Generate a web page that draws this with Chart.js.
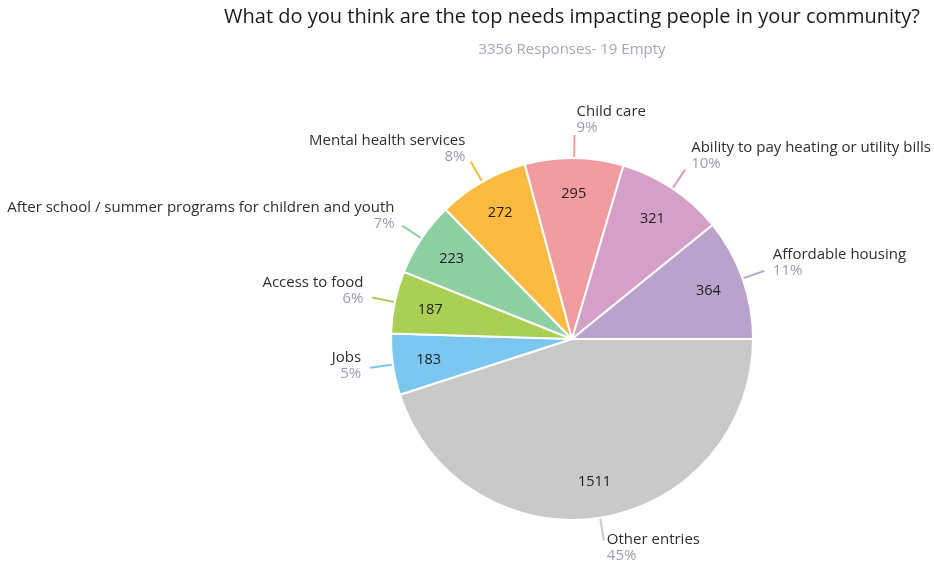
<!DOCTYPE html>
<html>
<head>
<meta charset="utf-8">
<script src="https://cdn.jsdelivr.net/npm/chart.js@4.4.0/dist/chart.umd.min.js"></script>
<style>
  html, body { margin: 0; padding: 0; background: #fff; }
  #wrap { width: 934px; height: 565px; position: relative; }
</style>
</head>
<body>
<div id="wrap"><canvas id="needsChart" width="934" height="565"></canvas></div>
<script>
// answers, in the order they go round the pie (clockwise from 3 o'clock)
const categories = ['Other entries', 'Jobs', 'Access to food',
  'After school / summer programs for children and youth',
  'Mental health services', 'Child care',
  'Ability to pay heating or utility bills', 'Affordable housing'];
const counts = [1511, 183, 187, 223, 272, 295, 321, 364];
const percents = ['45%', '5%', '6%', '7%', '8%', '9%', '10%', '11%'];
const sliceColors = ['#c9c9c9', '#7cc7ef', '#a9d055', '#8ecfa3',
  '#fbbb42', '#f19ca0', '#d5a0c8', '#b9a3cd'];

const titleText = 'What do you think are the top needs impacting people in your community?';
const subtitleText = '3356 Responses- 19 Empty';
const fontFamily = '"Open Sans", Lato, sans-serif';

// labels outside the pie with a short leader line, plus the count inside each slice
const pieLabels = {
  id: 'pieLabels',
  afterDatasetsDraw(chart) {
    const ctx = chart.ctx;
    const meta = chart.getDatasetMeta(0);
    ctx.save();
    meta.data.forEach(function(arc, i) {
      const p = arc.getProps(['x', 'y', 'startAngle', 'endAngle', 'outerRadius']);
      const mid = (p.startAngle + p.endAngle) / 2;
      const cos = Math.cos(mid), sin = Math.sin(mid);
      const r = p.outerRadius;

      // count inside the slice
      ctx.font = '14.5px ' + fontFamily;
      ctx.fillStyle = '#1e1e1e';
      ctx.textAlign = 'center';
      ctx.textBaseline = 'middle';
      ctx.fillText(counts[i], p.x + cos * r * 0.8, p.y + sin * r * 0.8);

      // leader line
      const x1 = p.x + cos * (r + 1), y1 = p.y + sin * (r + 1);
      const x2 = p.x + cos * (r + 23), y2 = p.y + sin * (r + 23);
      ctx.strokeStyle = sliceColors[i];
      ctx.lineWidth = 2;
      ctx.beginPath();
      ctx.moveTo(x1, y1);
      ctx.lineTo(x2, y2);
      ctx.stroke();

      // name and percent
      const right = cos >= 0;
      const off = 2 + 7 * Math.abs(cos);
      const tx = right ? x2 + off : x2 - off;
      const pctY = y2 + 11 * (1 + sin) - 7; // canvas y runs down, so sin > 0 is lower half
      ctx.font = '15px ' + fontFamily;
      ctx.textAlign = right ? 'left' : 'right';
      ctx.fillStyle = '#9a9cb4';
      ctx.fillText(percents[i], tx, pctY);
      ctx.fillStyle = '#2e2e33';
      ctx.fillText(categories[i], tx, pctY - 16);
    });

    // heading
    ctx.textAlign = 'center';
    ctx.textBaseline = 'middle';
    ctx.fillStyle = '#1b1b1b';
    ctx.font = '20px ' + fontFamily;
    ctx.fillText(titleText, 572, 17);
    ctx.fillStyle = '#a4a6b8';
    ctx.font = '15px ' + fontFamily;
    ctx.fillText(subtitleText, 572, 50);
    ctx.restore();
  }
};

new Chart(document.getElementById('needsChart'), {
  type: 'pie',
  data: {
    labels: categories,
    datasets: [{
      data: counts,
      backgroundColor: sliceColors,
      borderColor: '#ffffff',
      borderWidth: 2
    }]
  },
  options: {
    responsive: false,
    animation: false,
    rotation: 90,
    layout: { padding: { top: 157, bottom: 44, left: 390, right: 180 } },
    plugins: {
      legend: { display: false },
      tooltip: { enabled: false },
      title: { display: false }
    }
  },
  plugins: [pieLabels]
});
</script>
</body>
</html>
